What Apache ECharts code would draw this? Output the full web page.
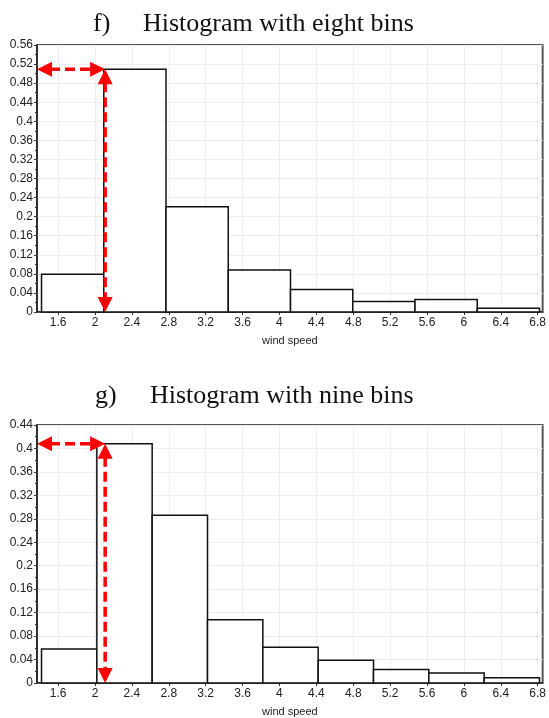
<!DOCTYPE html>
<html>
<head>
<meta charset="utf-8">
<script src="https://cdn.jsdelivr.net/npm/echarts@6/dist/echarts.min.js"></script>
<style>
html,body{margin:0;padding:0;background:#fff;}
#c{width:549px;height:718px;}
</style>
</head>
<body>
<div id="c"></div>
<script>
// ---- data ----
const titleF = 'Histogram with eight bins';
const titleG = 'Histogram with nine bins';
const binEdgesF = [1.42, 2.095, 2.77, 3.445, 4.12, 4.795, 5.47, 6.145, 6.82];
const freqF = [0.079, 0.509, 0.221, 0.088, 0.047, 0.022, 0.026, 0.008];
const binEdgesG = [1.42, 2.02, 2.62, 3.22, 3.82, 4.42, 5.02, 5.62, 6.22, 6.82];
const freqG = [0.058, 0.408, 0.286, 0.108, 0.061, 0.039, 0.023, 0.017, 0.009];
const xTickLabels = [1.6, 2, 2.4, 2.8, 3.2, 3.6, 4, 4.4, 4.8, 5.2, 5.6, 6, 6.4, 6.8];
const xRange = [1.371, 6.854];
const yMaxF = 0.56, yMaxG = 0.44, yStep = 0.04;
const arrowX = 2.11;
const peakF = 0.509, peakG = 0.408;
const xName = 'wind speed';

// ---- chart ----
const chart = echarts.init(document.getElementById('c'));
const sans = 'Liberation Sans, Arial, sans-serif';
const serif = 'Liberation Serif, Times New Roman, serif';

function toBars(edges, freq) {
  return freq.map((v, i) => [edges[i], edges[i + 1], v]);
}
function xAxisFor(idx) {
  return {
    type: 'value', gridIndex: idx, min: xRange[0], max: xRange[1],
    name: xName, nameLocation: 'middle', nameGap: 23,
    nameTextStyle: { fontFamily: sans, fontSize: 11, color: '#222' },
    axisLine: { show: true, lineStyle: { color: '#222', width: 1.5 } },
    axisTick: { show: true, length: 3, customValues: xTickLabels, lineStyle: { color: '#333' } },
    axisLabel: { customValues: xTickLabels, fontFamily: sans, fontSize: 12, color: '#222', margin: 5 },
    splitLine: { show: true, lineStyle: { color: '#eeeeee', width: 1 } }
  };
}
function yAxisFor(idx, max) {
  return {
    type: 'value', gridIndex: idx, min: 0, max: max, interval: yStep,
    axisLine: { show: true, lineStyle: { color: '#222', width: 1.5 } },
    axisTick: { show: true, length: 3, lineStyle: { color: '#333' } },
    minorTick: { show: true, splitNumber: 2, length: 2, lineStyle: { color: '#333' } },
    minorSplitLine: { show: false },
    axisLabel: { fontFamily: sans, fontSize: 12, color: '#222', margin: 4 },
    splitLine: { show: true, lineStyle: { color: '#eeeeee', width: 1 } }
  };
}
function renderBar(params, api) {
  const p0 = api.coord([api.value(0), api.value(2)]);
  const p1 = api.coord([api.value(1), 0]);
  return {
    type: 'rect',
    shape: { x: p0[0], y: p0[1], width: p1[0] - p0[0], height: p1[1] - p0[1] },
    style: { fill: '#ffffff', stroke: '#111111', lineWidth: 1.5 }
  };
}
// double-headed dashed arrow between two data points
function renderArrow(params, api) {
  const a = api.coord([api.value(0), api.value(1)]);
  const b = api.coord([api.value(2), api.value(3)]);
  const dx = b[0] - a[0], dy = b[1] - a[1];
  const len = Math.sqrt(dx * dx + dy * dy);
  const ux = dx / len, uy = dy / len;
  const px = -uy, py = ux;
  const hl = 15, hw = 7.5;
  function head(tip, dir) {
    const bx = tip[0] - dir * ux * hl, by = tip[1] - dir * uy * hl;
    return {
      type: 'polygon',
      shape: { points: [tip, [bx + px * hw, by + py * hw], [bx - px * hw, by - py * hw]] },
      style: { fill: '#ff0000' }
    };
  }
  return {
    type: 'group',
    children: [
      { type: 'line',
        shape: { x1: a[0] + ux * (hl - 2), y1: a[1] + uy * (hl - 2), x2: b[0] - ux * (hl - 2), y2: b[1] - uy * (hl - 2) },
        style: { stroke: '#ff0000', lineWidth: 3.5, lineDash: [10, 5] } },
      head(a, -1),
      head(b, 1)
    ]
  };
}
function arrows(idx, peak) {
  return {
    type: 'custom', xAxisIndex: idx, yAxisIndex: idx, renderItem: renderArrow, z: 10,
    encode: { x: [0, 2], y: [1, 3] },
    data: [
      [xRange[0], peak, arrowX, peak],
      [arrowX, peak, arrowX, 0]
    ]
  };
}
const titleStyle = { fontFamily: serif, fontSize: 26, fontWeight: 'normal', color: '#111' };

chart.setOption({
  animation: false,
  backgroundColor: '#ffffff',
  title: [
    { text: 'f)', left: 88, top: 6, textStyle: titleStyle },
    { text: titleF, left: 138, top: 6, textStyle: titleStyle },
    { text: 'g)', left: 90, top: 378, textStyle: titleStyle },
    { text: titleG, left: 145, top: 378, textStyle: titleStyle }
  ],
  grid: [
    { left: 37, right: 4, top: 45, height: 267, show: true, borderColor: '#555', borderWidth: 2 },
    { left: 37, right: 4, top: 425, height: 262, show: true, borderColor: '#555', borderWidth: 2 }
  ],
  xAxis: [xAxisFor(0), xAxisFor(1)],
  yAxis: [yAxisFor(0, yMaxF), yAxisFor(1, yMaxG)],
  series: [
    { type: 'custom', xAxisIndex: 0, yAxisIndex: 0, renderItem: renderBar,
      encode: { x: [0, 1], y: 2 }, data: toBars(binEdgesF, freqF) },
    { type: 'custom', xAxisIndex: 1, yAxisIndex: 1, renderItem: renderBar,
      encode: { x: [0, 1], y: 2 }, data: toBars(binEdgesG, freqG) },
    arrows(0, peakF),
    arrows(1, peakG)
  ]
});
</script>
</body>
</html>
